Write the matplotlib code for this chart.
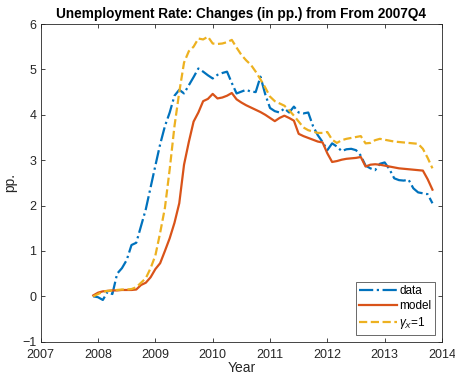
import matplotlib
matplotlib.use("Agg")
import matplotlib.pyplot as plt
import numpy as np

# monthly observations, Dec 2007 .. Nov 2013, change in pp. relative to 2007Q4
start_year = 2007 + 11 / 12
data = [0.00, -0.02, -0.08, 0.10, 0.05, 0.50, 0.62, 0.80, 1.13, 1.18,
        1.55, 1.92, 2.40, 2.88, 3.35, 3.75, 4.05, 4.42, 4.55, 4.47,
        4.65, 4.83, 5.02, 4.95, 4.87, 4.80, 4.88, 4.92, 4.95, 4.70,
        4.47, 4.51, 4.55, 4.51, 4.50, 4.84, 4.45, 4.15, 4.08, 4.05,
        4.14, 4.05, 4.18, 4.05, 4.03, 4.05, 3.75, 3.55, 3.40, 3.22,
        3.37, 3.30, 3.20, 3.24, 3.25, 3.22, 3.10, 2.88, 2.82, 2.78,
        2.92, 2.95, 2.80, 2.60, 2.56, 2.55, 2.57, 2.38, 2.29, 2.27,
        2.25, 2.05]
model = [0.02, 0.08, 0.11, 0.12, 0.13, 0.13, 0.14, 0.14, 0.14, 0.15,
         0.25, 0.30, 0.42, 0.60, 0.73, 1.00, 1.28, 1.62, 2.05, 2.90,
         3.40, 3.85, 4.05, 4.30, 4.35, 4.46, 4.36, 4.38, 4.42, 4.48,
         4.34, 4.27, 4.21, 4.16, 4.11, 4.06, 4.00, 3.93, 3.86, 3.93,
         3.98, 3.93, 3.87, 3.58, 3.53, 3.49, 3.45, 3.41, 3.39, 3.15,
         2.96, 2.98, 3.01, 3.03, 3.04, 3.05, 3.07, 2.86, 2.90, 2.91,
         2.90, 2.88, 2.86, 2.84, 2.82, 2.81, 2.80, 2.79, 2.78, 2.77,
         2.58, 2.35]
gamma_x1 = [0.00, 0.05, 0.10, 0.12, 0.13, 0.14, 0.15, 0.15, 0.16, 0.20,
            0.30, 0.40, 0.62, 0.90, 1.40, 1.95, 2.80, 3.75, 4.50, 5.15,
            5.40, 5.50, 5.68, 5.66, 5.72, 5.57, 5.56, 5.57, 5.60, 5.65,
            5.48, 5.32, 5.20, 5.10, 4.95, 4.78, 4.60, 4.40, 4.30, 4.25,
            4.20, 4.10, 3.98, 3.85, 3.72, 3.66, 3.63, 3.60, 3.60, 3.62,
            3.45, 3.38, 3.44, 3.47, 3.49, 3.51, 3.53, 3.37, 3.38, 3.44,
            3.47, 3.45, 3.43, 3.41, 3.40, 3.39, 3.38, 3.37, 3.36, 3.25,
            3.05, 2.82]
years = start_year + np.arange(len(data)) / 12

plt.rcParams['font.family'] = ['Liberation Sans', 'DejaVu Sans']
plt.rcParams['mathtext.fontset'] = 'custom'
plt.rcParams['mathtext.rm'] = 'Liberation Sans'
plt.rcParams['mathtext.it'] = 'Liberation Sans:italic'

fig = plt.figure(figsize=(4.56, 3.78), dpi=100)
ax = fig.add_axes([0.0893, 0.096, 0.88, 0.8405])

ax.plot(years, data, '-.', color='#0072BD', lw=1.6, label='data')
ax.plot(years, model, '-', color='#D95319', lw=1.6, label='model')
ax.plot(years, gamma_x1, '--', color='#EDB120', lw=1.6, label=r'$\gamma_X$=1')

ax.set_xlim(2007, 2014)
ax.set_ylim(-1, 6)
ax.set_xticks(range(2007, 2015))
ax.set_yticks(range(-1, 7))
ax.tick_params(direction='in', top=True, right=True, length=3, width=0.6,
               labelsize=9, colors='#262626')
ax.tick_params(axis='x', pad=5)
ax.tick_params(axis='y', pad=3)
for s in ax.spines.values():
    s.set_color('#262626')
    s.set_linewidth(0.6)

ax.set_xlabel('Year', fontsize=10, color='#262626', labelpad=0)
ax.set_ylabel('pp.', fontsize=10, color='#262626', labelpad=4)
ax.set_title('Unemployment Rate: Changes (in pp.) from From 2007Q4',
             fontsize=9.8, fontweight='bold', pad=4)

leg = ax.legend(loc='lower right', fontsize=8.5, frameon=True, fancybox=False,
                edgecolor='#262626', handlelength=3.2, handletextpad=0.2,
                borderpad=0.3, labelspacing=0.25, borderaxespad=0.6)
leg.get_frame().set_linewidth(0.6)

fig.savefig('out.png', dpi=100)
